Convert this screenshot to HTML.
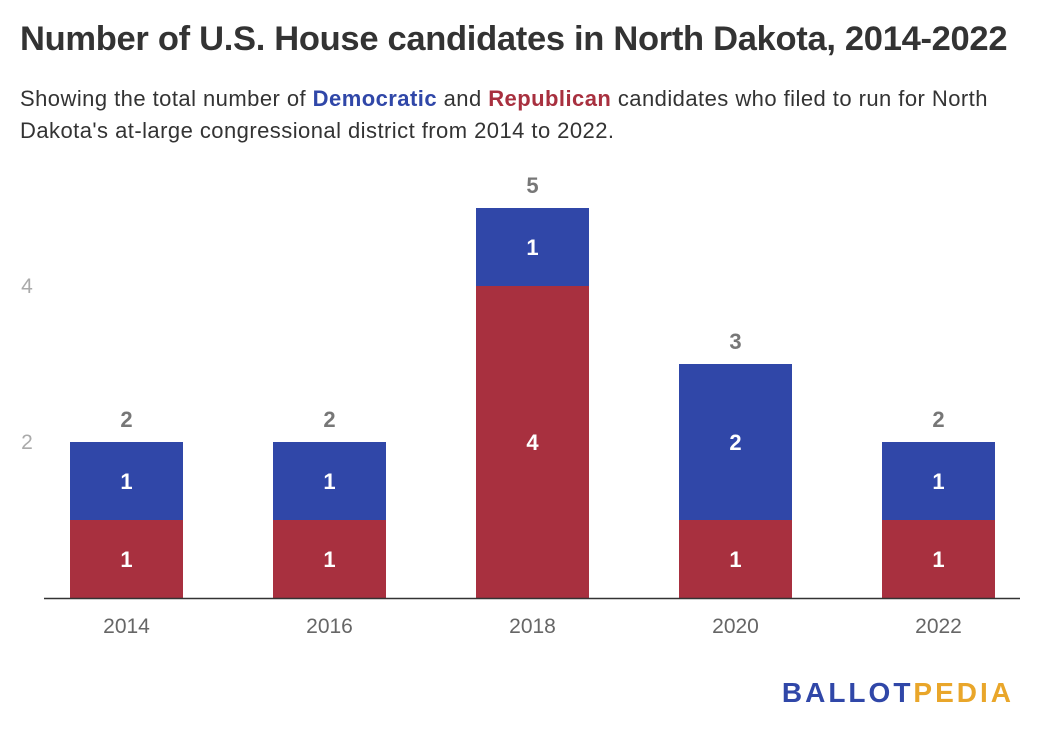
<!DOCTYPE html>
<html><head><meta charset="utf-8"><style>
body{margin:0;background:#fff;width:1040px;height:740px;overflow:hidden;font-family:"Liberation Sans",sans-serif}
#title{position:absolute;left:20px;top:20px;font-size:34.5px;font-weight:bold;color:#333;letter-spacing:-0.3px;white-space:nowrap}
#sub{position:absolute;left:20px;top:83px;font-size:22px;letter-spacing:0.45px;color:#333;line-height:32px;width:1010px}
.d{color:#3047a8;font-weight:bold}.r{color:#a8303f;font-weight:bold}
#logo{position:absolute;right:26px;top:677px;font-size:28px;font-weight:bold;letter-spacing:3px}
</style></head><body>
<div id="title">Number of U.S. House candidates in North Dakota, 2014-2022</div>
<div id="sub">Showing the total number of <span class="d">Democratic</span> and <span class="r">Republican</span> candidates who filed to run for North Dakota's at-large congressional district from 2014 to 2022.</div>
<svg id="chart" width="1040" height="740" style="position:absolute;left:0;top:0"></svg>
<div id="logo"><span style="color:#3047a8">BALLOT</span><span style="color:#e9a62a">PEDIA</span></div>
<script>
const categories=["2014","2016","2018","2020","2022"];
const republican=[1,1,4,1,1];
const democratic=[1,1,1,2,1];
const yTicks=[2,4];
const NS="http://www.w3.org/2000/svg";
const svg=document.getElementById('chart');
const y=v=>598-v*78;
const x=i=>126.5+i*203;
const bw=113;
function mk(t,a,txt){const e=document.createElementNS(NS,t);for(const k in a)e.setAttribute(k,a[k]);if(txt!==undefined)e.textContent=txt;svg.appendChild(e);return e;}
yTicks.forEach(t=>{const e=mk('text',{x:27,y:y(t)+7,'text-anchor':'middle','font-size':21,fill:'#aaa','font-family':'Liberation Sans'},t);

});
categories.forEach((c,i)=>{
  const r=republican[i],d=democratic[i];
  const rb=mk('rect',{x:x(i)-bw/2,y:y(r),width:bw,height:y(0)-y(r),fill:'#a8303f'});
  
  
  const db=mk('rect',{x:x(i)-bw/2,y:y(r+d),width:bw,height:y(r)-y(r+d),fill:'#3047a8'});
  
  
  const rl=mk('text',{x:x(i),y:(y(0)+y(r))/2+8,'text-anchor':'middle','font-size':22,'font-weight':'bold',fill:'#fff'},r);
  
  
  const dl=mk('text',{x:x(i),y:(y(r)+y(r+d))/2+8,'text-anchor':'middle','font-size':22,'font-weight':'bold',fill:'#fff'},d);
  
  
  const tl=mk('text',{x:x(i),y:y(r+d)-15,'text-anchor':'middle','font-size':22,'font-weight':'bold',fill:'#777'},r+d);
  
  
  const xl=mk('text',{x:x(i),y:633,'text-anchor':'middle','font-size':21,fill:'#666'},c);
  
  
});
const ax=mk('line',{x1:44,x2:1020,y1:598.5,y2:598.5,stroke:'#333','stroke-width':1.5});


</script>
</body></html>
